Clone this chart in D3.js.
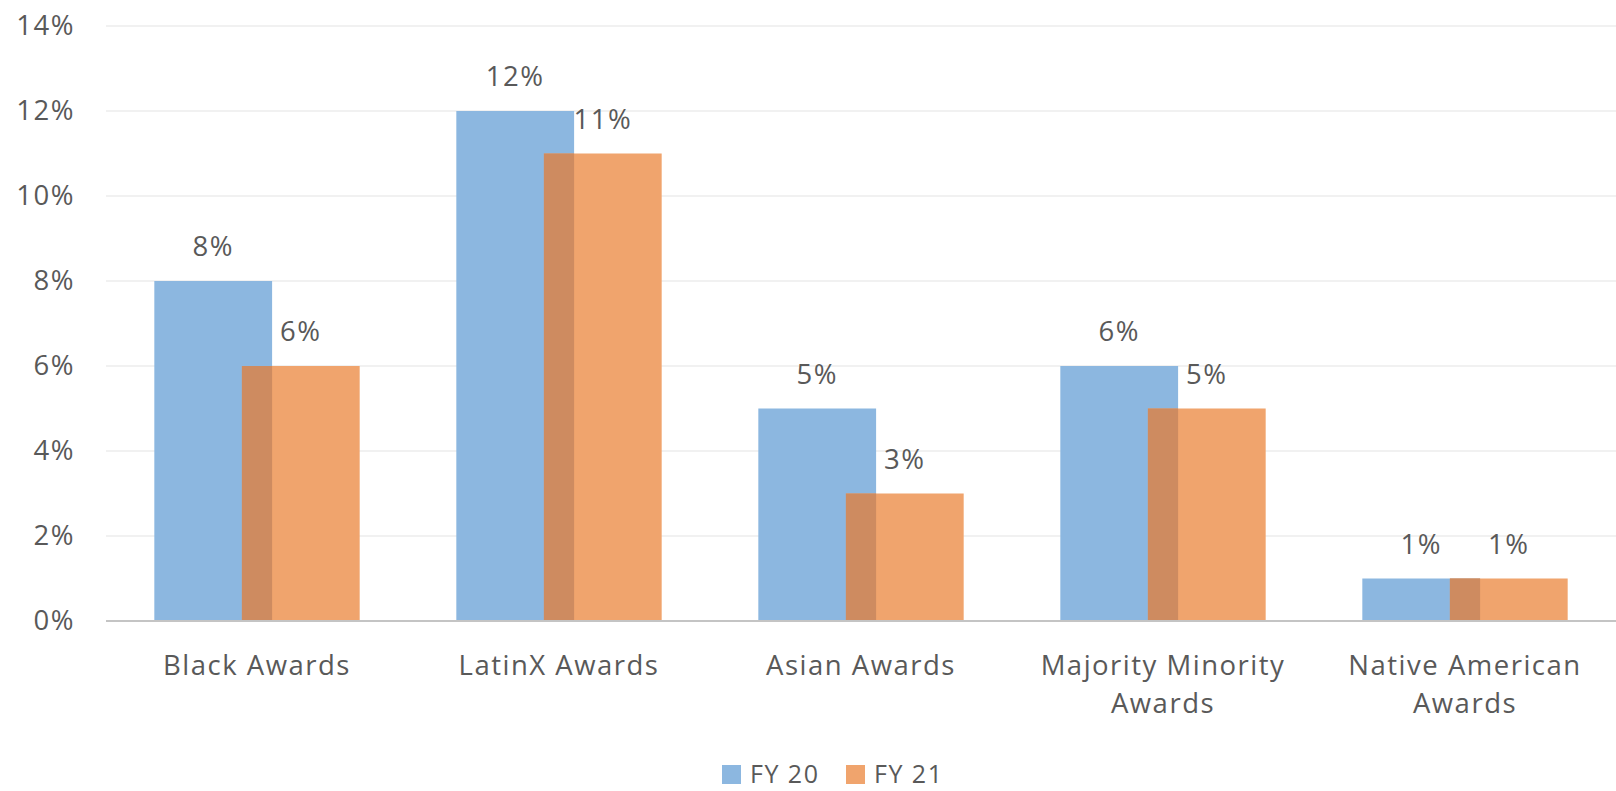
<!DOCTYPE html>
<html><head><meta charset="utf-8">
<script src="https://cdn.jsdelivr.net/npm/d3@7"></script>
<style>body{margin:0;background:#fff}svg{display:block}text{font-family:"Open Sans",Lato,sans-serif;fill:#595959;letter-spacing:1.5px}</style>
</head><body><svg id="c" width="1616" height="791"></svg>
<script>
const categories = [["Black Awards"],["LatinX Awards"],["Asian Awards"],["Majority Minority","Awards"],["Native American","Awards"]];
const seriesNames = ["FY 20","FY 21"];
const fy20 = [8,12,5,6,1];
const fy21 = [6,11,3,5,1];
const yTicks = [0,2,4,6,8,10,12,14];
const colors = ["#8CB7E0","#F0A46D"];
const overlapColor = "#CE8B60";
const FS = 27.5;

const svg = d3.select("#c");
const W=1616, H=791;
const m = {l:106, r:0, t:26, b:170};
const x = d3.scaleBand().domain(d3.range(categories.length)).range([m.l, W-m.r]);
const y = d3.scaleLinear().domain([0,14]).range([621, 26]);
const barW = x.bandwidth()*0.39;
const off = x.bandwidth()*0.29;
const groupW = barW+off;

svg.append("g").selectAll("line").data(yTicks.filter(d=>d>0)).join("line")
  .attr("x1",m.l).attr("x2",W).attr("y1",d=>y(d)).attr("y2",d=>y(d))
  .attr("stroke","#EDEDED").attr("stroke-width",1.5);

const yAxis = svg.append("g").attr("transform",`translate(${m.l},0)`)
  .call(d3.axisLeft(y).tickValues(yTicks).tickFormat(d=>d+"%").tickSize(0).tickPadding(31));
yAxis.select(".domain").remove();
yAxis.selectAll("text").attr("font-size",FS).attr("fill","#595959").style("font-family",null);

const gx = i => x(i) + (x.bandwidth()-groupW)/2;
const data = categories.map((c,i)=>({i, a:fy20[i], b:fy21[i]}));

svg.append("g").selectAll("rect").data(data).join("rect")
  .attr("x",d=>gx(d.i)).attr("width",barW).attr("y",d=>y(d.a)).attr("height",d=>y(0)-y(d.a)).attr("fill",colors[0]);
svg.append("g").selectAll("rect").data(data).join("rect")
  .attr("x",d=>gx(d.i)+off).attr("width",barW).attr("y",d=>y(d.b)).attr("height",d=>y(0)-y(d.b)).attr("fill",colors[1]);
svg.append("g").selectAll("rect").data(data).join("rect")
  .attr("x",d=>gx(d.i)+off).attr("width",barW-off).attr("y",d=>y(Math.min(d.a,d.b))).attr("height",d=>y(0)-y(Math.min(d.a,d.b))).attr("fill",overlapColor);

svg.append("line").attr("x1",m.l).attr("x2",W).attr("y1",y(0)).attr("y2",y(0)).attr("stroke","#C4C4C4").attr("stroke-width",2);

svg.append("g").selectAll("text").data(data).join("text")
  .attr("x",d=>gx(d.i)+barW/2).attr("y",d=>y(d.a)-25).attr("text-anchor","middle").attr("font-size",FS).text(d=>d.a+"%");
svg.append("g").selectAll("text").data(data).join("text")
  .attr("x",d=>gx(d.i)+off+barW/2).attr("y",d=>y(d.b)-25).attr("text-anchor","middle").attr("font-size",FS).text(d=>d.b+"%");

const cl = svg.append("g").selectAll("text").data(categories).join("text")
  .attr("text-anchor","middle").attr("font-size",FS)
  .attr("transform",(d,i)=>`translate(${x(i)+x.bandwidth()/2},675)`);
cl.selectAll("tspan").data(d=>d).join("tspan").attr("x",0).attr("dy",(d,j)=>j?38:0).text(d=>d);

const lg = svg.append("g").attr("transform","translate(722,765)");
const items = lg.selectAll("g").data(seriesNames).join("g").attr("transform",(d,i)=>`translate(${i*124},0)`);
items.append("rect").attr("width",19).attr("height",19).attr("fill",(d,i)=>colors[i]);
items.append("text").attr("x",28).attr("y",18).attr("font-size",25).text(d=>d);
</script></body></html>
